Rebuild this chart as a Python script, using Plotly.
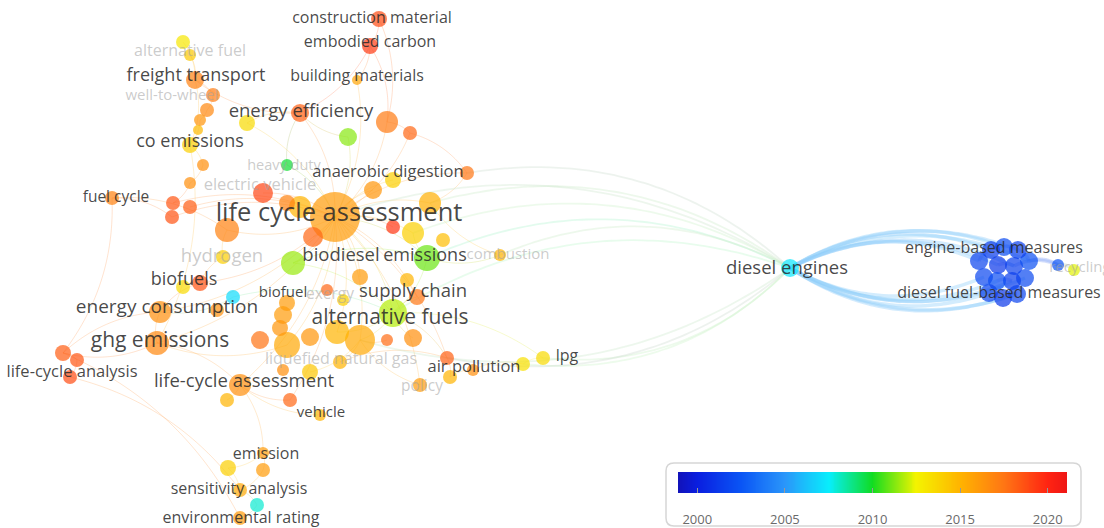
import numpy as np
import plotly.graph_objects as go

# ---------------- keyword map (map coordinates, publication year, weight) ----------------
node_x = [379, 370, 183, 190, 195, 213, 207, 200, 247, 300, 357, 387, 410, 348, 190, 198, 203, 287, 190, 263,
          173, 190, 172, 112, 335, 300, 287, 373, 393, 430, 393, 413, 443, 313, 227, 467, 293, 223, 427, 500,
          360, 200, 183, 233, 327, 343, 407, 417, 287, 160, 217, 393, 283, 280, 260, 287, 310, 337, 360, 387,
          413, 340, 310, 283, 447, 450, 473, 523, 543, 420, 290, 320, 157, 63, 77, 70, 240, 227, 263, 228,
          263, 240, 257, 240, 790,
          979, 991, 1004, 1018, 1029, 984, 998, 1014, 997, 1012, 1025, 989, 1003, 1017, 1058, 1074]
node_y = [19, 46, 42, 55, 80, 95, 110, 120, 123, 113, 80, 122, 133, 137, 145, 130, 165, 165, 183, 193,
          203, 207, 217, 198, 217, 207, 203, 190, 180, 203, 227, 233, 240, 237, 230, 173, 263, 257, 258, 255,
          277, 283, 287, 297, 290, 300, 280, 297, 303, 312, 310, 313, 315, 328, 340, 345, 337, 332, 340, 340,
          338, 362, 372, 370, 358, 377, 370, 364, 358, 385, 400, 415, 343, 353, 360, 377, 385, 400, 453, 468,
          470, 490, 505, 518, 268,
          261, 250, 247, 250, 261, 277, 265, 266, 281, 281, 278, 293, 298, 294, 265, 270]
node_year = [2018.8, 2019.3, 2013.0, 2014.2, 2017.0, 2017.2, 2016.8, 2016.3, 2013.5, 2018.2, 2015.6, 2017.3,
             2018.0, 2011.3, 2014.0, 2014.8, 2016.5, 2009.8, 2016.5, 2019.0, 2018.5, 2018.3, 2018.6, 2017.0,
             2016.0, 2015.0, 2017.0, 2016.2, 2014.0, 2015.2, 2019.5, 2014.0, 2014.6, 2018.0, 2017.0, 2017.5,
             2011.5, 2014.0, 2011.0, 2015.0, 2016.0, 2018.6, 2013.5, 2007.0, 2018.0, 2014.0, 2015.0, 2017.5,
             2016.0, 2016.5, 2016.5, 2011.8, 2016.0, 2016.2, 2017.6, 2015.5, 2016.2, 2015.0, 2015.5, 2017.8,
             2016.5, 2015.0, 2014.3, 2016.5, 2018.2, 2015.0, 2016.5, 2013.3, 2013.5, 2016.0, 2018.0, 2015.0,
             2016.8, 2018.3, 2018.5, 2018.8, 2016.5, 2015.0, 2016.0, 2014.0, 2016.0, 2015.5, 2008.0, 2016.0,
             2007.3,
             2001.7, 2001.3, 2002.0, 2001.5, 2002.2, 2001.8, 2001.1, 2001.5, 2002.1, 2001.4, 2001.9, 2001.6,
             2001.2, 2001.7, 2002.3, 2012.3]
node_weight = [16, 16, 14, 12, 18, 14, 14, 12, 16, 18, 10, 22, 14, 18, 16, 10, 12, 12, 12, 20,
               14, 14, 14, 14, 50, 22, 16, 18, 16, 22, 14, 22, 14, 20, 24, 14, 24, 14, 26, 12,
               16, 16, 14, 14, 12, 12, 14, 16, 16, 22, 14, 28, 18, 16, 18, 26, 18, 24, 30, 12,
               18, 14, 16, 12, 14, 14, 12, 14, 14, 14, 14, 12, 24, 16, 14, 14, 22, 14, 12, 16,
               14, 14, 14, 14, 18,
               18, 18, 18, 18, 18, 18, 18, 18, 18, 18, 18, 18, 18, 18, 12, 12]

# co-occurrence links
cluster_links = [(0, 1), (1, 10), (1, 11), (0, 11), (10, 24), (1, 9), (9, 24), (9, 4), (4, 5), (5, 6), (6, 7),
                 (7, 14), (14, 16), (16, 18), (18, 20), (2, 4), (3, 4), (4, 14), (8, 9), (8, 24), (11, 24),
                 (12, 24), (11, 12), (13, 24), (13, 9), (17, 24), (17, 9), (19, 24), (20, 24), (21, 24),
                 (22, 24), (23, 22), (23, 34), (24, 25), (24, 27), (24, 28), (24, 29), (24, 30), (24, 31),
                 (24, 33), (24, 34), (24, 35), (24, 36), (24, 38), (24, 40), (24, 41), (24, 47), (24, 49),
                 (24, 51), (24, 55), (24, 57), (24, 58), (24, 72), (24, 76), (24, 64), (24, 69), (24, 70),
                 (35, 29), (38, 31), (38, 51), (51, 58), (51, 57), (51, 47), (51, 64), (51, 68), (55, 72),
                 (72, 49), (72, 73), (73, 74), (74, 75), (73, 49), (72, 76), (76, 77), (76, 78), (78, 79),
                 (78, 80), (80, 81), (81, 82), (82, 83), (79, 81), (71, 76), (70, 76), (49, 41), (41, 37),
                 (37, 34), (43, 49), (43, 51), (36, 51), (36, 38), (58, 61), (58, 62), (61, 64), (64, 65),
                 (65, 66), (66, 67), (67, 68), (39, 38), (39, 29), (69, 58), (60, 51), (59, 58), (75, 81),
                 (73, 83), (14, 72), (23, 73), (12, 35)]
bridge_links = [(35, 84), (29, 84), (38, 84), (24, 84), (51, 84), (39, 84), (31, 84),
                (84, 68), (84, 67), (84, 58), (84, 64)]
diesel_links = [(84, 85), (84, 86), (84, 87), (84, 88), (84, 89), (84, 91), (84, 92),
                (90, 84), (93, 84), (94, 84), (95, 84), (96, 84), (97, 84), (98, 84),
                (85, 86), (86, 87), (87, 88), (88, 89), (91, 92), (93, 94), (96, 97), (97, 98),
                (89, 99), (92, 99), (99, 100)]

# keyword labels
label_text = ["construction material", "embodied carbon", "freight transport", "building materials",
              "energy efficiency", "co emissions", "anaerobic digestion", "fuel cycle",
              "life cycle assessment", "biodiesel", "emissions", "biofuels", "biofuel", "supply chain",
              "energy consumption", "alternative fuels", "ghg emissions", "life-cycle analysis",
              "air pollution", "lpg", "life-cycle assessment", "vehicle", "emission",
              "sensitivity analysis", "environmental rating", "diesel engines",
              "engine-based measures", "diesel fuel-based measures"]
label_x = [372, 370, 196, 357, 301, 190, 388, 116, 339, 341, 425, 184, 283, 413, 167, 390, 160, 72,
           474, 567, 244, 321, 266, 239, 241, 787, 994, 999]
label_y = [19, 43, 76, 77, 112, 142, 173, 198, 215, 256, 256, 280, 293, 292, 308, 319, 342, 373,
           368, 357, 382, 413, 455, 490, 519, 269, 249, 294]
label_size = [16, 16, 18, 16, 18.5, 18, 16.5, 15.5, 25.5, 18.5, 18, 18, 15, 18.5, 19, 21, 21, 16.5,
              16.5, 16, 18.5, 15, 16, 16, 16, 18.5, 16, 16]

faint_text = ["alternative fuel", "well-to-wheel", "heavy duty", "electric vehicle", "hydrogen",
              "combustion", "exergy", "liquefied natural gas", "policy", "recycling"]
faint_x = [190, 172, 284, 260, 222, 508, 330, 341, 422, 1080]
faint_y = [52, 96, 166, 186, 257, 255, 295, 360, 387, 268]
faint_size = [16, 15, 14.5, 16.5, 18.5, 15, 15.5, 16, 15.5, 15]

year_ticks = [2000, 2005, 2010, 2015, 2020]

# ---------------- colour scale ----------------
YEAR_MIN, YEAR_MAX = 1998.9, 2021.1
scale_stops = [(1998.9, "#1212b8"), (2000.0, "#0a1ee0"), (2002.5, "#0a55f5"), (2005.0, "#2a96fa"),
               (2007.5, "#08eefc"), (2010.0, "#10dc20"), (2012.5, "#f4f400"), (2015.0, "#ffb400"),
               (2017.5, "#ff7614"), (2020.0, "#ff2412"), (2021.1, "#ee1616")]
colorscale = [[(y - YEAR_MIN) / (YEAR_MAX - YEAR_MIN), c] for y, c in scale_stops]


def hex_rgb(h):
    h = h.lstrip("#")
    return np.array([int(h[i:i + 2], 16) for i in (0, 2, 4)], dtype=float)


def year_rgb(year):
    ys = [s[0] for s in scale_stops]
    cs = [hex_rgb(s[1]) for s in scale_stops]
    year = min(max(year, ys[0]), ys[-1])
    for i in range(len(ys) - 1):
        if ys[i] <= year <= ys[i + 1]:
            t = (year - ys[i]) / (ys[i + 1] - ys[i])
            return cs[i] * (1 - t) + cs[i + 1] * t
    return cs[-1]


def curve(a, b, bend, n=40):
    p0 = np.array([node_x[a], node_y[a]], float)
    p2 = np.array([node_x[b], node_y[b]], float)
    d = p2 - p0
    length = np.hypot(*d)
    normal = np.array([d[1], -d[0]]) / length
    p1 = (p0 + p2) / 2 + normal * bend * length
    t = np.linspace(0, 1, n)[:, None]
    pts = (1 - t) ** 2 * p0 + 2 * (1 - t) * t * p1 + t ** 2 * p2
    return pts[:, 0], pts[:, 1]


fig = go.Figure()


def add_links(links, bend, width, alpha, lighten):
    for a, b in links:
        rgb = (year_rgb(node_year[a]) + year_rgb(node_year[b])) / 2
        rgb = rgb + (255 - rgb) * lighten
        xs, ys = curve(a, b, bend)
        fig.add_trace(go.Scatter(
            x=xs, y=ys, mode="lines", hoverinfo="skip", showlegend=False,
            line=dict(color=f"rgba({rgb[0]:.0f},{rgb[1]:.0f},{rgb[2]:.0f},{alpha})", width=width,
                      shape="spline")))


add_links(cluster_links, 0.18, 1.0, 0.30, 0.35)
add_links(bridge_links, 0.24, 1.8, 0.32, 0.55)
add_links(diesel_links, 0.24, 3.5, 0.40, 0.55)

# nodes, larger ones first so small ones stay visible
order = np.argsort(node_weight)[::-1]
fig.add_trace(go.Scatter(
    x=[node_x[i] for i in order], y=[node_y[i] for i in order], mode="markers",
    hoverinfo="skip", showlegend=False,
    marker=dict(size=[node_weight[i] for i in order], color=[node_year[i] for i in order],
                colorscale=colorscale, cmin=YEAR_MIN, cmax=YEAR_MAX, opacity=0.7,
                line=dict(width=0))))

LABEL_FONT = "Open Sans"
fig.add_trace(go.Scatter(
    x=faint_x, y=faint_y, text=faint_text, mode="text", hoverinfo="skip", showlegend=False,
    textposition="middle center",
    textfont=dict(family=LABEL_FONT, size=faint_size, color="rgba(160,160,160,0.55)")))
fig.add_trace(go.Scatter(
    x=label_x, y=label_y, text=label_text, mode="text", hoverinfo="skip", showlegend=False,
    textposition="middle center",
    textfont=dict(family=LABEL_FONT, size=label_size, color="rgba(40,40,40,0.85)")))

# ---------------- overlay colour bar ----------------
fig.add_shape(type="path", xref="x", yref="y",
              path="M 674 463 L 1073 463 Q 1081 463 1081 471 L 1081 518 Q 1081 526 1073 526 "
                   "L 674 526 Q 666 526 666 518 L 666 471 Q 666 463 674 463 Z",
              line=dict(color="#d6d6d6", width=1.5), fillcolor="white", layer="below")

bar_years = np.linspace(YEAR_MIN, YEAR_MAX, 400)
fig.add_trace(go.Heatmap(
    x=bar_years, y=[0], z=[bar_years], xaxis="x2", yaxis="y2", colorscale=colorscale,
    zmin=YEAR_MIN, zmax=YEAR_MAX, showscale=False, hoverinfo="skip"))

W, H = 1104, 528
fig.update_layout(
    width=W, height=H, margin=dict(l=0, r=0, t=0, b=0, autoexpand=False),
    paper_bgcolor="white", plot_bgcolor="white",
    xaxis=dict(range=[0, W], visible=False, domain=[0, 1], automargin=False),
    yaxis=dict(range=[H, 0], visible=False, domain=[0, 1], automargin=False),
    xaxis2=dict(domain=[678 / W, 1067 / W], range=[YEAR_MIN, YEAR_MAX], anchor="y2",
                tickvals=year_ticks, ticks="inside", ticklen=5, tickcolor="#999",
                showgrid=False, zeroline=False, showline=False, automargin=False,
                tickfont=dict(family=LABEL_FONT, size=13, color="#6a6a6a"),
                ticklabelstandoff=17),
    yaxis2=dict(domain=[(H - 493) / H, (H - 472) / H], anchor="x2", visible=False,
                range=[-0.5, 0.5], automargin=False),
    font=dict(family=LABEL_FONT),
)

fig.write_html("out.html")
